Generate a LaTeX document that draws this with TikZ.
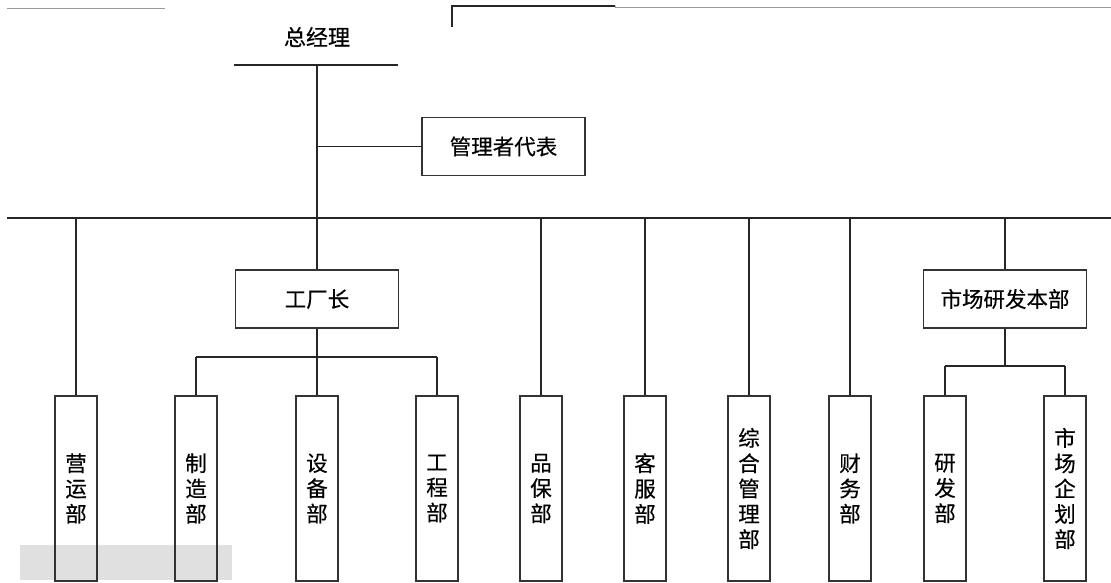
\documentclass[tikz,border=0pt]{standalone}
\usepackage{fontspec}
\setmainfont{Noto Sans CJK SC}[FakeBold=0.4]
\begin{document}
\begin{tikzpicture}[x=1pt,y=-1pt,
  line/.style={draw=black!85,line width=1.3pt},
  faint/.style={draw=black!40,line width=1pt},
  hbox/.style={draw=black!80,line width=1.4pt,minimum width=163pt,minimum height=58pt,inner sep=0pt,font=\fontsize{21.5}{24}\selectfont},
  vbox/.style={draw=black!80,line width=1.4pt,minimum width=42pt,minimum height=185pt,inner sep=0pt,text width=24pt,align=center,font=\fontsize{21.5}{25.3}\selectfont},
  lbl/.style={inner sep=0pt,font=\fontsize{22}{24}\selectfont}]
\useasboundingbox (0,0) rectangle (1111,583);
% background artefacts
\fill[black!12] (20,545) rectangle (232,580);
\draw[faint] (7,9) -- (165,9);
\coordinate (brA) at (452,27);
\coordinate (brB) at (452,6);
\coordinate (brC) at (615,6);
\coordinate (brD) at (1111,8);
\draw[line] (brA) -- (brB) -- (brC);
\draw[faint] (brC) -- (615,8) -- (brD);
% top
\node[lbl] (gm) at (317,37) {总经理};
\coordinate (gmL) at (234,65);
\coordinate (gmR) at (398,65);
\coordinate (gmB) at (317,65);
\draw[line] (gmL) -- (gmR);
\node[hbox] (rep) at (503.5,146.5) {管理者代表};
\coordinate (busL) at (7,218);
\coordinate (busR) at (1111,218);
\coordinate (busC) at (317,218);
\draw[line] (gmB) -- (busC);
\draw[line] (busL) -- (busR);
\draw[line] (rep.west) -- (rep.west -| gmB);
% factory
\node[hbox] (fac) at (317,299) {工厂长};
\draw[line] (busC) -- (fac.north);
% market HQ
\node[hbox] (mkt) at (1005,299) {市场研发本部};
\draw[line] (mkt.north) -- (mkt.north |- busR);
% departments
\node[vbox] (d1) at (76,488.5) {营\\运\\部};
\node[vbox] (d2) at (196,488.5) {制\\造\\部};
\node[vbox] (d3) at (317,488.5) {设\\备\\部};
\node[vbox] (d4) at (437,488.5) {工\\程\\部};
\node[vbox] (d5) at (541,488.5) {品\\保\\部};
\node[vbox] (d6) at (645,488.5) {客\\服\\部};
\node[vbox] (d7) at (749,488.5) {综\\合\\管\\理\\部};
\node[vbox] (d8) at (850,488.5) {财\\务\\部};
\node[vbox] (d9) at (945,488.5) {研\\发\\部};
\node[vbox] (d10) at (1065,488.5) {市\\场\\企\\划\\部};
% bus drops
\foreach \d in {d1,d5,d6,d7,d8}
  \draw[line] (\d.north) -- (\d.north |- busR);
% factory branch
\coordinate (facJ) at (317,357);
\draw[line] (fac.south) -- (facJ);
\draw[line] (d2.north |- facJ) -- (d4.north |- facJ);
\foreach \d in {d2,d3,d4}
  \draw[line] (\d.north) -- (\d.north |- facJ);
% market branch
\coordinate (mktJ) at (1005,366);
\draw[line] (mkt.south) -- (mktJ);
\draw[line] (d9.north |- mktJ) -- (d10.north |- mktJ);
\foreach \d in {d9,d10}
  \draw[line] (\d.north) -- (\d.north |- mktJ);
\end{tikzpicture}
\end{document}
